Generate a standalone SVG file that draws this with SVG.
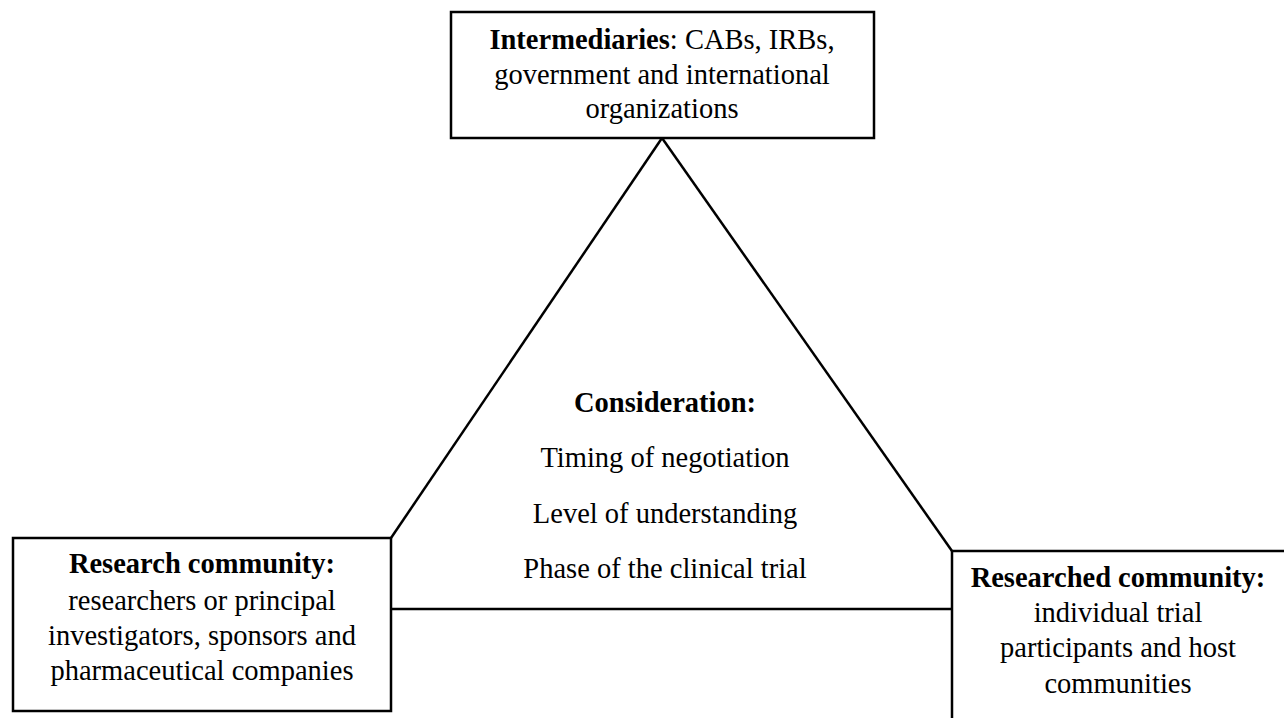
<svg xmlns="http://www.w3.org/2000/svg" width="1284" height="718" viewBox="0 0 1284 718">
<style>
.box{fill:#fff;stroke:#000;stroke-width:2.5}
.ln{fill:none;stroke:#000;stroke-width:2.5}
text{font-family:"Liberation Serif","Times New Roman",serif;font-size:28.5px;fill:#000;text-anchor:middle}
.b{font-weight:bold}
</style>
<rect width="1284" height="718" fill="#fff"/>
<g id="connectors">
<line class="ln" x1="662" y1="138" x2="391" y2="538"/>
<line class="ln" x1="662" y1="138" x2="952" y2="551"/>
<line class="ln" x1="391" y1="609" x2="952" y2="609"/>
</g>
<g id="intermediaries">
<rect class="box" x="451" y="12" width="423" height="126"/>
<text x="662" y="49"><tspan class="b">Intermediaries</tspan>: CABs, IRBs,</text>
<text x="662" y="84">government and international</text>
<text x="662" y="118">organizations</text>
</g>
<g id="consideration">
<text class="b" x="665" y="412">Consideration:</text>
<text x="665" y="467">Timing of negotiation</text>
<text x="665" y="523">Level of understanding</text>
<text x="665" y="578">Phase of the clinical trial</text>
</g>
<g id="research">
<rect class="box" x="13" y="538" width="378" height="173"/>
<text class="b" x="202" y="573">Research community:</text>
<text x="202" y="610">researchers or principal</text>
<text x="202" y="645">investigators, sponsors and</text>
<text x="202" y="680">pharmaceutical companies</text>
</g>
<g id="researched">
<rect class="box" x="952" y="551" width="340" height="180"/>
<text class="b" x="1118" y="587">Researched community:</text>
<text x="1118" y="622">individual trial</text>
<text x="1118" y="657">participants and host</text>
<text x="1118" y="693">communities</text>
</g>
</svg>
